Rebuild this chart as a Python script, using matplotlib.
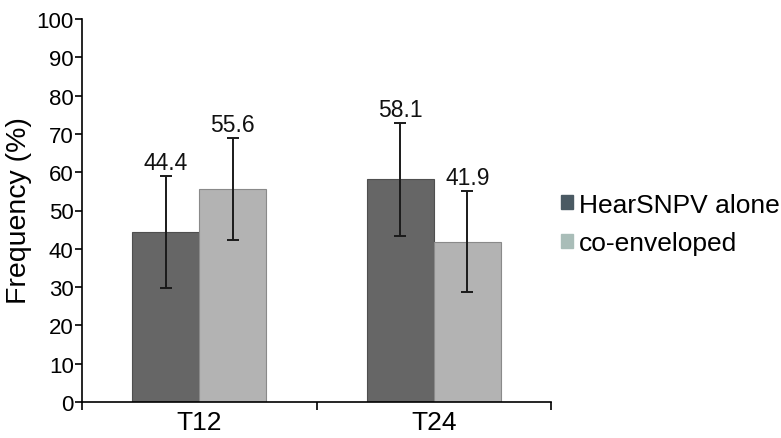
import matplotlib.pyplot as plt
import numpy as np
from matplotlib.patches import Patch

plt.rcParams['font.family'] = ['Liberation Sans', 'DejaVu Sans']

categories = ['T12', 'T24']
series_names = ['HearSNPV alone', 'co-enveloped']
alone = [44.4, 58.1]
coenv = [55.6, 41.9]
alone_err = [14.7, 14.8]
coenv_err = [13.3, 13.1]

fig = plt.figure(figsize=(7.81, 4.39), dpi=100)
ax = fig.add_axes([82 / 781, 36 / 439, 469 / 781, 383 / 439])

x = np.arange(len(categories))
w = 0.286
ekw = dict(ecolor='#1a1a1a', elinewidth=1.4, capsize=4, capthick=1.4)
ax.bar(x - w / 2, alone, w, color='#666666', edgecolor='#4f4f4f', linewidth=0.8,
       yerr=alone_err, error_kw=ekw)
ax.bar(x + w / 2, coenv, w, color='#b3b3b3', edgecolor='#8a8a8a', linewidth=0.8,
       yerr=coenv_err, error_kw=ekw)

# value labels above the error bars
for xs, vals, errs in [(x - w / 2, alone, alone_err), (x + w / 2, coenv, coenv_err)]:
    for xi, v, e in zip(xs, vals, errs):
        ax.text(xi, v + e + 0.5, f'{v:.1f}', ha='center', va='bottom', fontsize=16.5,
                color='#111111')

ax.set_xlim(-0.5, 1.5)
ax.set_ylim(0, 100)
ax.set_yticks(range(0, 101, 10))
ax.set_xticks([-0.5, 0.5, 1.5])
ax.set_xticklabels([])
ax.set_xticks(x, minor=True)
ax.set_xticklabels(categories, minor=True, fontsize=19)
ax.tick_params(axis='x', which='minor', length=0, pad=6)
ax.tick_params(axis='x', which='major', length=6, width=1.2, direction='out')
ax.tick_params(axis='y', length=5, width=1.2, direction='out', labelsize=16, pad=1)
for s in ['top', 'right']:
    ax.spines[s].set_visible(False)
for s in ['left', 'bottom']:
    ax.spines[s].set_linewidth(1.2)

fig.text(19 / 781, 1 - 211 / 439, 'Frequency (%)', rotation=90, ha='center', va='center',
         fontsize=20.5)

handles = [Patch(color='#4a5a63'), Patch(color='#a9bdb8')]
fig.legend(handles, series_names, loc='center left', bbox_to_anchor=(537 / 781, 1 - 225 / 439),
           frameon=False, fontsize=19, handlelength=0.45, handleheight=0.45,
           handletextpad=0.25, labelspacing=0.55)

fig.savefig('out.png', dpi=100)
